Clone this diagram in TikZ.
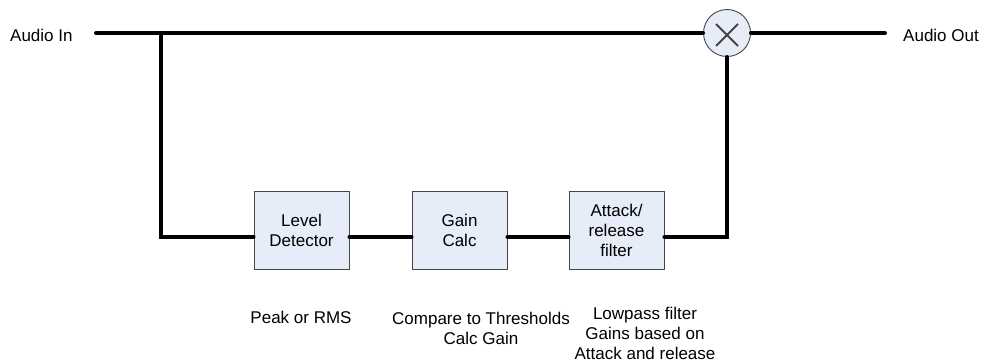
\documentclass[tikz,border=0pt]{standalone}
\usepackage{fontspec}
\setmainfont{Liberation Sans}
\usetikzlibrary{positioning}

\definecolor{boxfill}{RGB}{230,236,248}
\definecolor{boxline}{RGB}{70,70,70}

\begin{document}
\begin{tikzpicture}[
	x=1pt, y=-1pt,
	every node/.style={font=\fontsize{17}{20}\selectfont},
	signal/.style = {line width=4pt, line cap=round},
	block/.style = {draw=boxline, line width=0.9pt, fill=boxfill, minimum width=95pt, minimum height=78pt, inner sep=0pt, align=center},
	mult/.style = {draw=boxline, line width=0.9pt, fill=boxfill, circle, minimum size=47pt, inner sep=0pt,
		path picture={\draw[line width=2pt] ([shift={(-11pt,-13pt)}]path picture bounding box.center) -- ([shift={(11pt,9pt)}]path picture bounding box.center);
		\draw[line width=2pt] ([shift={(-11pt,9pt)}]path picture bounding box.center) -- ([shift={(11pt,-13pt)}]path picture bounding box.center);}},
	note/.style = {align=center, inner sep=0pt}
	]
	\useasboundingbox (0,0) rectangle (985,362);

	\coordinate (@src) at (96,33);
	\coordinate (@split) at (161,33);
	\coordinate (@sink) at (885,33);

	\node[note, anchor=west] (@in) at (10,35) {Audio In};
	\node[note, anchor=west] (@out) at (903,35) {Audio Out};

	\node[mult] (@mul) at (727,33) {};

	\node[block] (@level) at (301.5,230) {Level\\Detector};
	\node[block] (@gain) at (459.5,230) {Gain\\Calc};
	\node[block] (@attack) at (616.5,230) {Attack/\\release\\filter};

	\node[note] (@peak) at (301,317) {Peak or RMS};
	\node[note] (@compare) at (481,328) {Compare to Thresholds\\Calc Gain};
	\node[note] (@lowpass) at (645,333) {Lowpass filter\\Gains based on\\Attack and release};

	\draw[signal] (@src) -- (@mul);
	\draw[signal] (@mul) -- (@sink);
	\draw[signal] (@split) |- ([yshift=-7pt]@level.west);
	\draw[signal] ([yshift=-7pt]@level.east) -- ([yshift=-7pt]@gain.west);
	\draw[signal] ([yshift=-7pt]@gain.east) -- ([yshift=-7pt]@attack.west);
	\draw[signal] ([yshift=-7pt]@attack.east) -| (@mul.south);

\end{tikzpicture}
\end{document}
